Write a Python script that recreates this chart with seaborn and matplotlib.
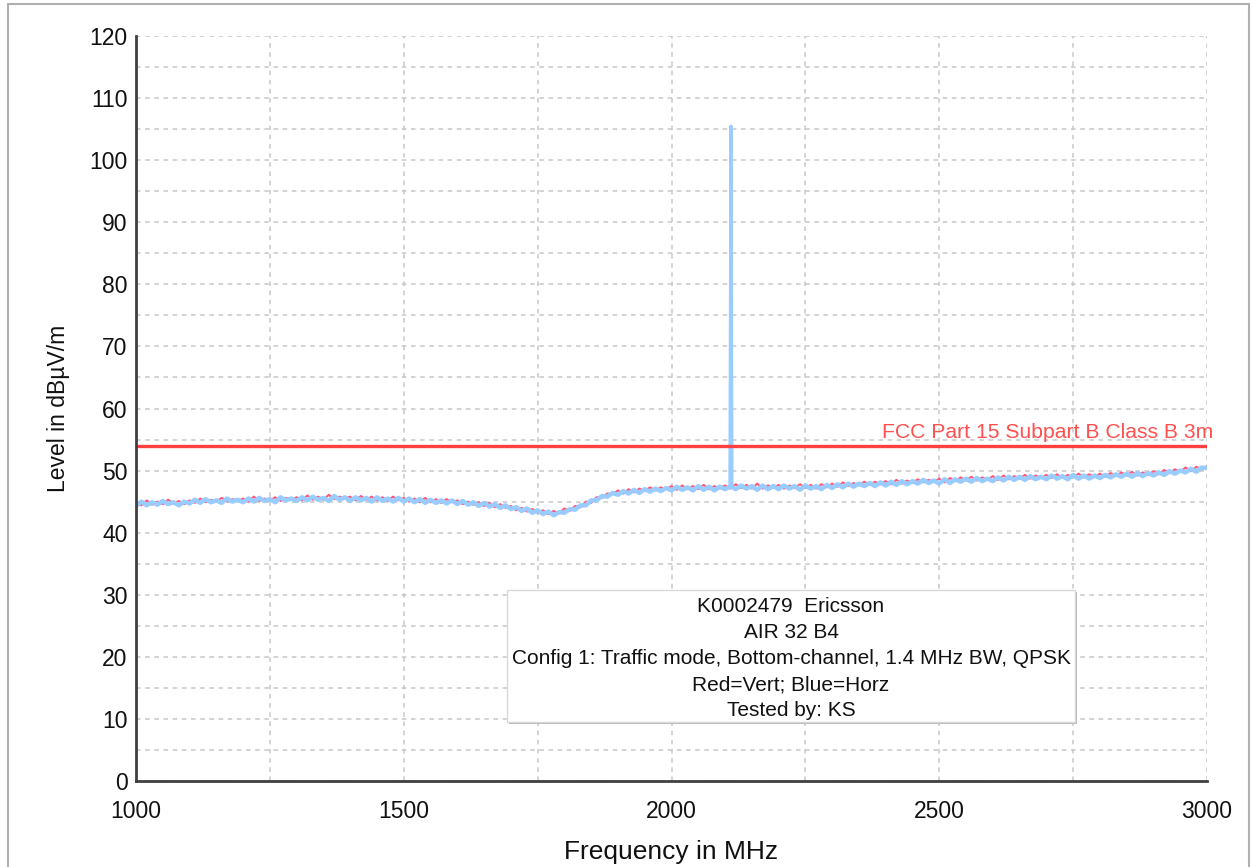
import numpy as np
import pandas as pd
import matplotlib
matplotlib.use("Agg")
import matplotlib.pyplot as plt
from matplotlib.patches import Rectangle
import seaborn as sns

# ---- data ----
freq = np.arange(1000, 3001, 10)
horz = [
    44.3, 45.0, 44.4, 44.9, 44.5, 45.1, 44.6, 44.9, 44.4, 45.0,
    44.7, 45.3, 44.8, 45.4, 44.9, 45.2, 44.8, 45.5, 45.0, 45.3,
    44.9, 45.5, 45.0, 45.6, 45.1, 45.4, 44.9, 45.7, 45.2, 45.5,
    45.1, 45.7, 45.2, 45.8, 45.3, 45.6, 45.1, 45.9, 45.3, 45.7,
    45.1, 45.7, 45.2, 45.6, 45.0, 45.7, 45.1, 45.5, 45.0, 45.6,
    45.0, 45.5, 44.9, 45.4, 44.8, 45.3, 44.8, 45.2, 44.7, 45.2,
    44.6, 45.1, 44.5, 44.9, 44.3, 44.8, 44.2, 44.6, 44.0, 44.4,
    43.8, 44.1, 43.5, 43.9, 43.2, 43.6, 43.0, 43.4, 42.8, 43.3,
    43.2, 43.8, 43.7, 44.4, 44.4, 45.2, 45.2, 45.9, 45.8, 46.4,
    46.1, 46.7, 46.3, 46.9, 46.4, 47.0, 46.6, 47.1, 46.7, 47.2,
    46.8, 47.4, 46.9, 47.3, 46.8, 47.5, 46.9, 47.4, 46.8, 47.4,
    47.0, 47.5, 47.0, 47.6, 47.1, 47.5, 46.9, 47.6, 47.0, 47.5,
    47.0, 47.6, 47.1, 47.5, 46.9, 47.6, 47.1, 47.5, 47.0, 47.7,
    47.2, 47.8, 47.3, 47.9, 47.4, 47.9, 47.5, 48.0, 47.5, 48.1,
    47.6, 48.2, 47.7, 48.3, 47.8, 48.3, 47.9, 48.5, 48.0, 48.4,
    47.9, 48.6, 48.0, 48.6, 48.2, 48.7, 48.2, 48.8, 48.3, 48.7,
    48.3, 48.9, 48.4, 49.0, 48.5, 49.0, 48.5, 49.1, 48.6, 49.0,
    48.6, 49.2, 48.7, 49.1, 48.6, 49.3, 48.7, 49.2, 48.7, 49.2,
    48.8, 49.3, 48.9, 49.4, 49.0, 49.5, 49.0, 49.6, 49.1, 49.6,
    49.2, 49.7, 49.3, 49.9, 49.5, 50.0, 49.7, 50.3, 49.8, 50.5,
    50.4,
]
vert = [
    44.9, 44.4, 45.2, 44.5, 45.0, 44.6, 45.3, 44.7, 45.1, 44.6,
    45.2, 44.8, 45.5, 44.9, 45.3, 45.0, 45.6, 45.0, 45.4, 45.1,
    45.5, 45.0, 45.8, 45.1, 45.5, 45.2, 45.7, 45.1, 45.6, 45.3,
    45.7, 45.2, 46.0, 45.3, 45.8, 45.3, 46.1, 45.4, 45.8, 45.5,
    45.8, 45.2, 45.9, 45.3, 45.8, 45.2, 45.7, 45.1, 45.8, 45.2,
    45.6, 45.0, 45.5, 44.9, 45.6, 44.9, 45.4, 44.8, 45.4, 44.9,
    45.2, 44.6, 45.0, 44.5, 44.9, 44.3, 44.8, 44.1, 44.6, 44.0,
    44.3, 43.6, 44.0, 43.4, 43.8, 43.2, 43.6, 43.0, 43.5, 43.1,
    43.9, 43.5, 44.3, 44.1, 45.0, 44.8, 45.7, 45.6, 46.3, 46.2,
    46.8, 46.3, 47.0, 46.5, 47.1, 46.7, 47.3, 46.8, 47.3, 47.0,
    47.5, 46.9, 47.6, 47.0, 47.5, 47.0, 47.7, 47.0, 47.5, 47.1,
    47.6, 47.1, 47.8, 47.2, 47.7, 47.1, 47.9, 47.1, 47.6, 47.2,
    47.7, 47.1, 47.6, 47.2, 47.8, 47.2, 47.7, 47.1, 47.8, 47.3,
    47.9, 47.4, 48.1, 47.5, 48.0, 47.6, 48.2, 47.7, 48.2, 47.8,
    48.3, 47.8, 48.5, 47.9, 48.4, 48.0, 48.6, 48.1, 48.5, 48.2,
    48.7, 48.1, 48.8, 48.3, 48.9, 48.4, 49.0, 48.4, 48.9, 48.5,
    49.1, 48.5, 49.2, 48.6, 49.1, 48.7, 49.3, 48.7, 49.2, 48.8,
    49.3, 48.8, 49.4, 48.8, 49.3, 48.9, 49.5, 48.9, 49.4, 49.0,
    49.5, 49.0, 49.6, 49.1, 49.7, 49.2, 49.8, 49.2, 49.7, 49.3,
    49.9, 49.4, 50.1, 49.6, 50.2, 49.8, 50.5, 49.9, 50.6, 50.2,
    50.7,
]
spike_freq = [2109, 2111, 2113]
spike_level = [47.3, 105.5, 47.3]
limit_freq = [1000, 3000]
limit_level = [54, 54]
limit_label = "FCC Part 15 Subpart B Class B 3m"
info_lines = [
    "K0002479  Ericsson",
    "AIR 32 B4",
    "Config 1: Traffic mode, Bottom-channel, 1.4 MHz BW, QPSK",
    "Red=Vert; Blue=Horz",
    "Tested by: KS",
]
x_ticks = [1000, 1500, 2000, 2500, 3000]
y_ticks = list(range(0, 121, 10))

# ---- style ----
sns.set_style("white")
plt.rcParams["font.family"] = ["Liberation Sans", "DejaVu Sans"]

W, H = 1252, 867
fig = plt.figure(figsize=(W / 100, H / 100), dpi=100)
ax = fig.add_axes([136 / W, 1 - 781 / H, (1207 - 136) / W, (781 - 36) / H])

df_v = pd.DataFrame({"f": freq, "lvl": vert})
df_h = pd.DataFrame({"f": freq, "lvl": horz})
df_s = pd.DataFrame({"f": spike_freq, "lvl": spike_level})
df_l = pd.DataFrame({"f": limit_freq, "lvl": limit_level})

red = "#ff5a7a"
blue = "#99ccff"
sns.lineplot(data=df_v, x="f", y="lvl", ax=ax, color=red, lw=1.5, zorder=3)
sns.lineplot(data=df_h, x="f", y="lvl", ax=ax, color=blue, lw=3.2, zorder=4)
sns.lineplot(data=df_s, x="f", y="lvl", ax=ax, color=blue, lw=2.2, zorder=4)
sns.lineplot(data=df_l, x="f", y="lvl", ax=ax, color="#ff4040", lw=2.4, zorder=5)

ax.set_xlim(1000, 3000)
ax.set_ylim(0, 120)
ax.set_xticks(x_ticks)
ax.set_xticks([1250, 1750, 2250, 2750], minor=True)
ax.set_yticks(y_ticks)
ax.set_yticks(list(range(5, 120, 10)), minor=True)
ax.tick_params(axis="both", which="major", labelsize=16.5, direction="inout",
               color="#202020", width=1.2, length=12, pad=4, labelcolor="#111111")
ax.tick_params(axis="both", which="minor", direction="inout",
               color="#202020", width=1.2, length=12)
ax.tick_params(axis="y", which="both", length=12, pad=0)
ax.tick_params(axis="x", which="major", pad=8)

ax.grid(True, which="both", color="#c8c8c8", linestyle=(0, (3, 3)), linewidth=1.1)
ax.set_axisbelow(True)
for s in ["top", "right"]:
    ax.spines[s].set_visible(False)
for s in ["left", "bottom"]:
    ax.spines[s].set_color("#404040")
    ax.spines[s].set_linewidth(2)
    ax.spines[s].set_zorder(6)

ax.set_xlabel("Frequency in MHz", fontsize=19, labelpad=12, color="#111111")
ax.set_ylabel("Level in dBµV/m", fontsize=16.5, labelpad=14, color="#111111")

ax.text(3012, 54.6, limit_label, color="#ff5050", fontsize=15.2,
        ha="right", va="bottom", zorder=6)

# info box (figure pixel coordinates)
bx0, bx1, by0, by1 = 507, 1075, 590, 722
fig.patches.append(Rectangle((bx0 / W + 2 / W, 1 - by1 / H - 2 / H), (bx1 - bx0) / W, (by1 - by0) / H,
                             transform=fig.transFigure, facecolor="#b8b8b8", edgecolor="none", zorder=7))
fig.patches.append(Rectangle((bx0 / W, 1 - by1 / H), (bx1 - bx0) / W, (by1 - by0) / H,
                             transform=fig.transFigure, facecolor="white", edgecolor="#d8d8d8", lw=1, zorder=8))
ys = [606, 632, 658, 685, 711]
for t, yy in zip(info_lines, ys):
    fig.text(791 / W, 1 - yy / H, t, ha="center", va="center", fontsize=15, color="#111111", zorder=9)

# outer frame
fig.patches.append(Rectangle((8 / W, -0.01), (1249 - 8) / W, 1 - 4 / H + 0.01,
                             transform=fig.transFigure, facecolor="none", edgecolor="#b0b0b0", lw=1.5, zorder=0))

fig.savefig("out.png", dpi=100)
